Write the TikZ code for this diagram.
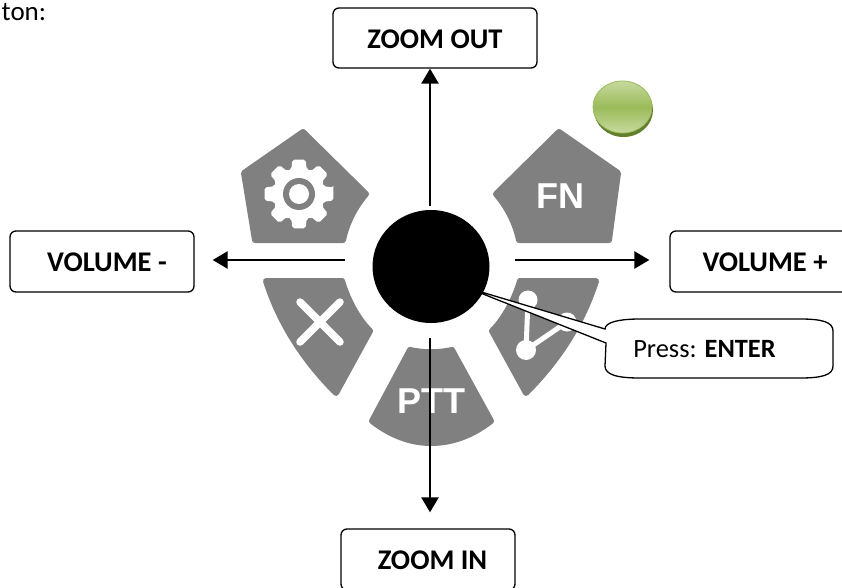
\documentclass[tikz,border=0pt]{standalone}
\usepackage{fontspec}
\setmainfont{Carlito}
\newfontfamily\keyfont{Liberation Sans}
\usetikzlibrary{arrows.meta,shapes.geometric}

\definecolor{keygrey}{HTML}{808080}
\definecolor{ledgreen}{HTML}{9BBB59}
\definecolor{ledlight}{HTML}{C6DA9E}
\definecolor{leddark}{HTML}{62802C}

\tikzset{
  key/.style={fill=keygrey,draw=keygrey,line width=6pt,line join=round},
  keytext/.style={text=white,font=\keyfont\bfseries\fontsize{36}{40}\selectfont,inner sep=0pt},
  stroke/.style={draw=white,line width=7.5pt,line cap=round},
  dirbox/.style={draw,line width=1.3pt,rounded corners=6pt,fill=white,inner sep=0pt,text height=21pt,
    font=\bfseries\fontsize{28.5}{32}\selectfont},
  pointer/.style={line width=2.5pt,-{Triangle[length=15pt,width=17pt]}},
}

\begin{document}
\begin{tikzpicture}[x=1pt,y=-1pt]

  \path[use as bounding box,clip] (0,0) rectangle (842,588);
  \fill[white] (0,0) rectangle (842,588);

  \node[anchor=base west,inner sep=0pt,font=\fontsize{27}{30}\selectfont] (caption) at (1.5,21) {ton:};

  \draw[key] (303,132) -- (366,194) .. controls (355,207) and (347,222) .. (343,240) -- (255,240) -- (244,173) -- cycle;
  \draw[key] (559,132) -- (618,173) -- (609,240) -- (519,240) .. controls (515,222) and (507,207) .. (496,194) -- cycle;
  \draw[key] (266,281) -- (342,281) .. controls (347,298) and (357,318) .. (370,331) -- (336,393) .. controls (305,362) and (280,325) .. cycle;
  \draw[key] (596,281) -- (520,281) .. controls (515,298) and (505,318) .. (492,331) -- (526,393) .. controls (557,362) and (582,325) .. cycle;
  \draw[key] (410,350) .. controls (424,353) and (438,353) .. (452,350) -- (491,421) .. controls (473,435) and (453,443) .. (431,443) .. controls (410,443) and (390,435) .. (372,421) -- cycle;

  \fill[white,rounded corners=2pt,shift={(299,194)}] (-11:35)
    \foreach \a in {0,45,...,315} { -- (\a-11:35) -- (\a+11:35) -- (\a+17:26) -- (\a+28:26) } -- cycle;
  \fill[keygrey] (299,194) circle (16);
  \fill[white] (299,194) circle (10);

  \node[keytext] (fn) at (560,196) {FN};
  \node[keytext] (ptt) at (431,401) {PTT};

  \draw[stroke] (300,302) -- (340,342) (340,302) -- (300,342);

  \fill[white] (528,300) circle (9.5) (526,350) circle (10) (567,322) circle (9.5);
  \draw[draw=white,line width=5pt] (528,300) -- (526,350) -- (567,322);

  \fill[leddark] (623.5,110) ellipse (29.5 and 27);
  \shade[top color=ledlight,bottom color=ledlight,middle color=ledgreen,draw=ledgreen,line width=0.8pt]
    (622.5,107) ellipse (29.5 and 26);

  \node[ellipse,fill=black,inner sep=0pt,outer sep=0pt,minimum width=117,minimum height=113] (knob) at (431,266.5) {};

  \node[dirbox,minimum width=204,minimum height=60] (zoomout) at (435,38) {ZOOM OUT\hspace{7pt}};
  \node[dirbox,minimum width=174,minimum height=61] (zoomin) at (428,559.5) {\hspace{9pt}ZOOM IN};
  \node[dirbox,minimum width=184,minimum height=61] (volminus) at (102,261.5) {\hspace{10pt}VOLUME -};
  \node[dirbox,minimum width=190,minimum height=61] (volplus) at (765,261.5) {VOLUME +\hspace{14pt}};

  \coordinate (upfrom) at (430,206);
  \coordinate (downfrom) at (430,338);
  \coordinate (leftfrom) at (345,260);
  \coordinate (rightfrom) at (515,260);

  \draw[pointer] (upfrom) -- (upfrom |- zoomout.south);
  \draw[pointer,shorten >=16pt] (downfrom) -- (downfrom |- zoomin.north);
  \draw[pointer,shorten >=18pt] (leftfrom) -- (leftfrom -| volminus.east);
  \draw[pointer,shorten >=20pt] (rightfrom) -- (rightfrom -| volplus.west);

  \coordinate (tip) at (468,288);
  \draw[fill=white,line width=1.3pt] (tip) -- (605,329) .. controls (605,322) and (620,319) .. (640,319)
    -- (800,319) .. controls (822,319) and (833,322) .. (833,331) -- (833,366)
    .. controls (833,375) and (822,378) .. (800,378) -- (640,378)
    .. controls (618,378) and (605,375) .. (605,366) -- (606,343) -- cycle;
  \node[inner sep=0pt,font=\fontsize{26.4}{30}\selectfont] (enter) at (704.5,349) {Press: \textbf{ENTER}};

\end{tikzpicture}
\end{document}
